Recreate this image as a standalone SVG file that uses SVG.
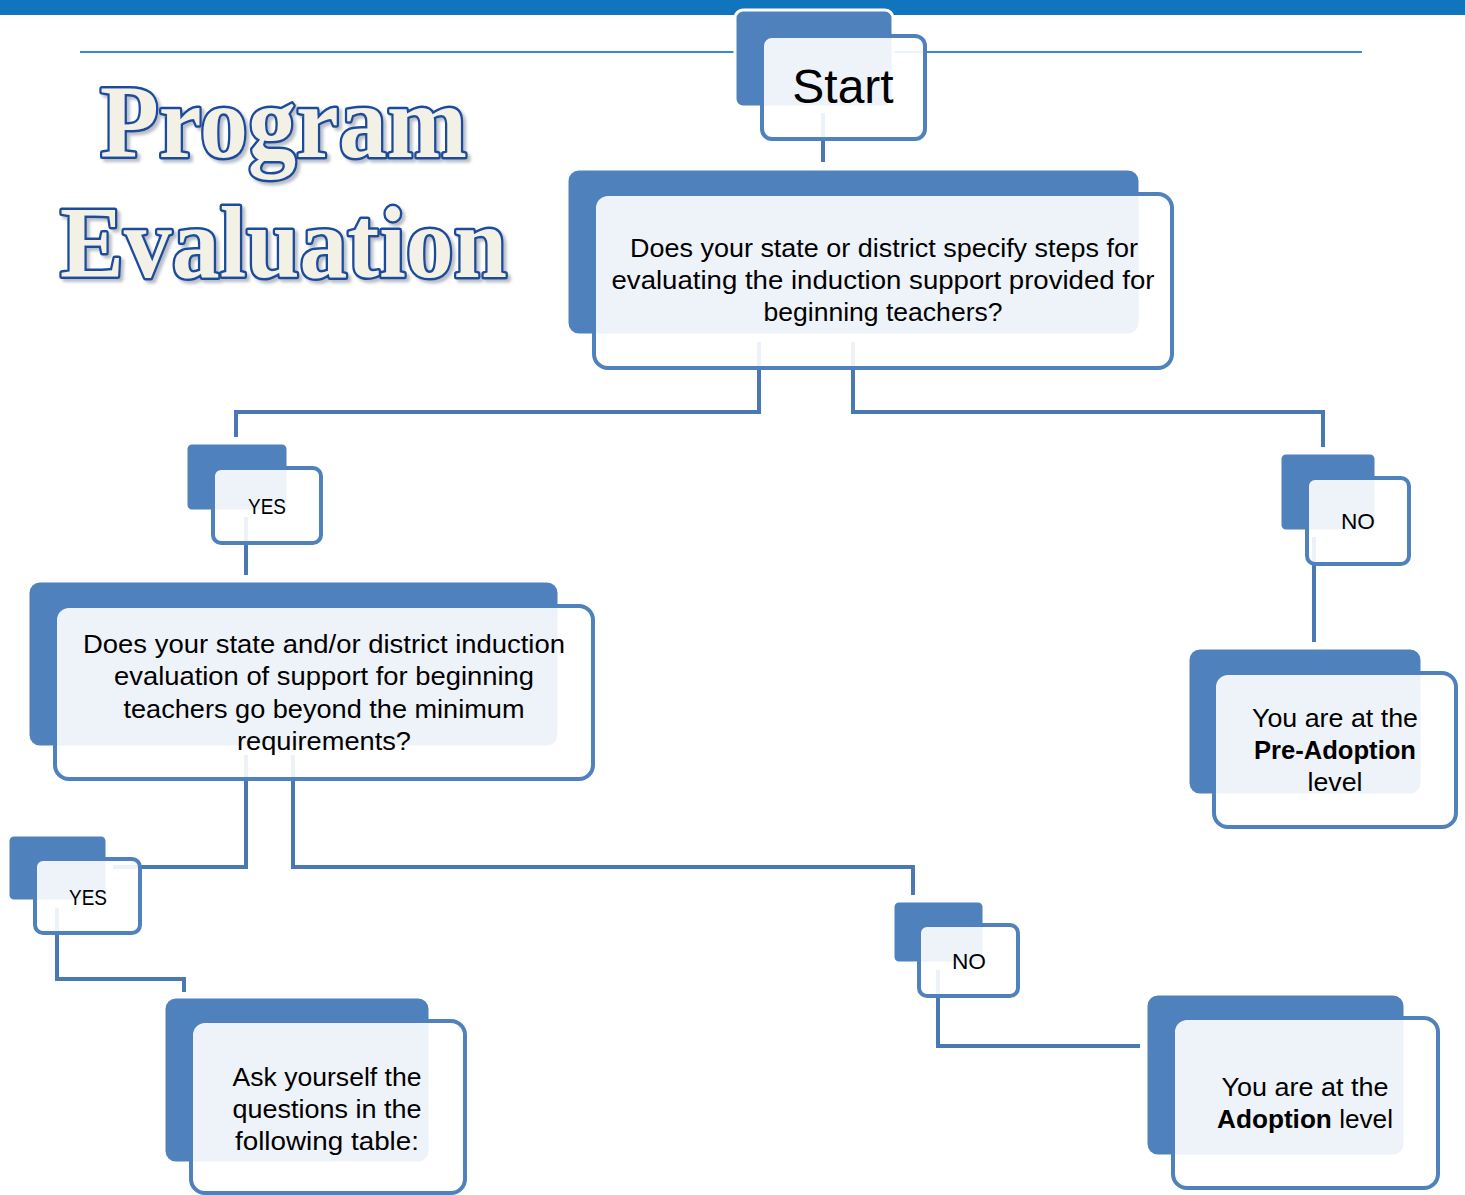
<svg xmlns="http://www.w3.org/2000/svg" width="1465" height="1195" viewBox="0 0 1465 1195">
<defs>
<filter id="sh" x="-5%" y="-10%" width="115%" height="130%">
<feDropShadow dx="3" dy="3" stdDeviation="1.5" flood-color="#7F8899" flood-opacity="0.55"/>
</filter>
</defs>
<style>
.back{fill:#4F81BD;stroke:#ffffff;stroke-width:3}
.front{fill:#ffffff;fill-opacity:0.9;stroke:#4F81BD;stroke-width:4}
.conn{fill:none;stroke:#4A78B2;stroke-width:4}
.t{font-family:"Liberation Sans",Arial,sans-serif;fill:#000;text-anchor:middle}
.q{font-size:25px}
.title{font-family:"Liberation Serif","Times New Roman",serif;font-weight:bold;fill:#F3F1E5;stroke:#1A4C9C;stroke-width:5;paint-order:stroke;stroke-linejoin:round}
</style>
<rect x="0" y="0" width="1465" height="15" fill="#1175BE"/>
<line x1="80" y1="52" x2="1362" y2="52" stroke="#3A8AD0" stroke-width="2"/>
<g id="title" filter="url(#sh)">
<text class="title" x="100" y="157" font-size="104" textLength="367" lengthAdjust="spacingAndGlyphs">Program</text>
<text class="title" x="60" y="277" font-size="102" textLength="447" lengthAdjust="spacingAndGlyphs">Evaluation</text>
</g>
<g id="connectors">
<path class="conn" d="M823,113 V162"/>
<path class="conn" d="M759,342 V412 H236 V437"/>
<path class="conn" d="M853,342 V412 H1323 V447"/>
<path class="conn" d="M246,517 V575"/>
<path class="conn" d="M1314,537 V642"/>
<path class="conn" d="M246,755 V867 H113"/>
<path class="conn" d="M293,755 V867 H913 V895"/>
<path class="conn" d="M57,908 V979 H184 V992"/>
<path class="conn" d="M938,970 V1046 H1140"/>
</g>
<g id="start">
<rect class="back" x="735" y="10" width="158" height="97" rx="8"/>
<rect class="front" x="762" y="36" width="163" height="103" rx="10"/>
<text class="t" x="843" y="103" font-size="48">Start</text>
</g>
<g id="q1">
<rect class="back" x="567" y="169" width="573" height="166" rx="12"/>
<rect class="front" x="594" y="194" width="578" height="174" rx="14"/>
<text class="t q" x="884" y="257" textLength="508" lengthAdjust="spacingAndGlyphs">Does your state or district specify steps for</text>
<text class="t q" x="883" y="289" textLength="543" lengthAdjust="spacingAndGlyphs">evaluating the induction support provided for</text>
<text class="t q" x="883" y="321" textLength="239" lengthAdjust="spacingAndGlyphs">beginning teachers?</text>
</g>
<g id="yes1">
<rect class="back" x="186" y="443" width="102" height="68" rx="6"/>
<rect class="front" x="213" y="468" width="108" height="75" rx="8"/>
<text class="t" x="267" y="514" font-size="22" textLength="38" lengthAdjust="spacingAndGlyphs">YES</text>
</g>
<g id="no1">
<rect class="back" x="1280" y="453" width="96" height="78" rx="6"/>
<rect class="front" x="1307" y="478" width="102" height="86" rx="8"/>
<text class="t" x="1358" y="529" font-size="22" textLength="34" lengthAdjust="spacingAndGlyphs">NO</text>
</g>
<g id="q2">
<rect class="back" x="28" y="581" width="531" height="166" rx="12"/>
<rect class="front" x="55" y="606" width="538" height="173" rx="14"/>
<text class="t q" x="324" y="653" textLength="482" lengthAdjust="spacingAndGlyphs">Does your state and/or district induction</text>
<text class="t q" x="324" y="685" textLength="420" lengthAdjust="spacingAndGlyphs">evaluation of support for beginning</text>
<text class="t q" x="324" y="718" textLength="401" lengthAdjust="spacingAndGlyphs">teachers go beyond the minimum</text>
<text class="t q" x="324" y="750" textLength="174" lengthAdjust="spacingAndGlyphs">requirements?</text>
</g>
<g id="preadoption">
<rect class="back" x="1188" y="648" width="234" height="147" rx="12"/>
<rect class="front" x="1214" y="673" width="242" height="154" rx="14"/>
<text class="t q" x="1335" y="727" textLength="166" lengthAdjust="spacingAndGlyphs">You are at the</text>
<text class="t q" x="1335" y="759" font-weight="bold" textLength="162" lengthAdjust="spacingAndGlyphs">Pre-Adoption</text>
<text class="t q" x="1335" y="791" textLength="55" lengthAdjust="spacingAndGlyphs">level</text>
</g>
<g id="yes2">
<rect class="back" x="8" y="835" width="99" height="66" rx="6"/>
<rect class="front" x="35" y="859" width="105" height="74" rx="8"/>
<text class="t" x="88" y="905" font-size="22" textLength="38" lengthAdjust="spacingAndGlyphs">YES</text>
</g>
<g id="no2">
<rect class="back" x="893" y="901" width="91" height="62" rx="6"/>
<rect class="front" x="919" y="925" width="99" height="71" rx="8"/>
<text class="t" x="969" y="969" font-size="22" textLength="34" lengthAdjust="spacingAndGlyphs">NO</text>
</g>
<g id="ask">
<rect class="back" x="164" y="997" width="266" height="166" rx="12"/>
<rect class="front" x="191" y="1021" width="274" height="172" rx="14"/>
<text class="t q" x="327" y="1086" textLength="189" lengthAdjust="spacingAndGlyphs">Ask yourself the</text>
<text class="t q" x="327" y="1118" textLength="189" lengthAdjust="spacingAndGlyphs">questions in the</text>
<text class="t q" x="327" y="1150" textLength="184" lengthAdjust="spacingAndGlyphs">following table:</text>
</g>
<g id="adoption">
<rect class="back" x="1146" y="994" width="259" height="162" rx="12"/>
<rect class="front" x="1173" y="1018" width="265" height="170" rx="14"/>
<text class="t q" x="1305" y="1096" textLength="167" lengthAdjust="spacingAndGlyphs">You are at the</text>
<text class="t q" x="1305" y="1128" textLength="176" lengthAdjust="spacingAndGlyphs"><tspan font-weight="bold">Adoption</tspan> level</text>
</g>
</svg>
